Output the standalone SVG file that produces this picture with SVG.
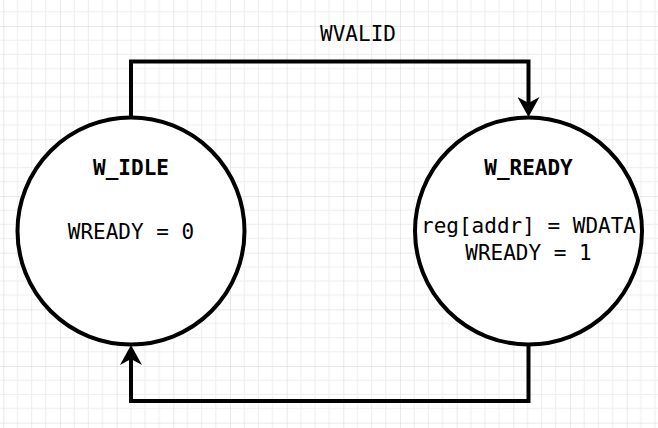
<svg xmlns="http://www.w3.org/2000/svg" width="658" height="428" viewBox="0 0 658 428">
  <defs>
    <pattern id="grid" patternUnits="userSpaceOnUse" x="3.33" y="26" width="56.667" height="56.667">
      <path d="M14.167 0V56.667M28.333 0V56.667M42.5 0V56.667M0 14.167H56.667M0 28.333H56.667M0 42.5H56.667" stroke="#ededed" stroke-width="1" fill="none"/>
      <path d="M0 0V56.667M0 0H56.667" stroke="#d3d3d3" stroke-width="1" fill="none"/>
    </pattern>
    <marker id="arrow" viewBox="0 0 20 22" refX="6" refY="11" markerWidth="20" markerHeight="22" markerUnits="userSpaceOnUse" orient="auto">
      <path d="M20 11L0 0L6 11L0 22Z" fill="#000"/>
    </marker>
  </defs>
  <style>
    .state { fill: #ffffff; stroke: #000000; stroke-width: 4; }
    .edge { fill: none; stroke: #000000; stroke-width: 4; }
    text { font-family: "DejaVu Sans Mono", "Liberation Mono", monospace; font-size: 21px; fill: #000000; text-anchor: middle; }
    .title { font-weight: bold; }
  </style>
  <rect x="0" y="0" width="658" height="428" fill="#ffffff"/>
  <rect x="0" y="0" width="658" height="428" fill="url(#grid)"/>

  <g id="connectors">
    <g id="edge-wvalid">
      <path class="edge" d="M131 117.5V61.5H528.5V103" marker-end="url(#arrow)"/>
      <text x="358" y="41">WVALID</text>
    </g>
    <g id="edge-return">
      <path class="edge" d="M528.5 344.5V401H131V359" marker-end="url(#arrow)"/>
    </g>
  </g>

  <g id="node-w-idle">
    <circle class="state" cx="131" cy="231" r="113.5"/>
    <text class="title" x="131" y="175">W_IDLE</text>
    <text x="131" y="239">WREADY = 0</text>
  </g>

  <g id="node-w-ready">
    <circle class="state" cx="528.5" cy="231" r="113.5"/>
    <text class="title" x="528.5" y="175">W_READY</text>
    <text x="528.5" y="233">reg[addr] = WDATA</text>
    <text x="528.5" y="260">WREADY = 1</text>
  </g>
</svg>
